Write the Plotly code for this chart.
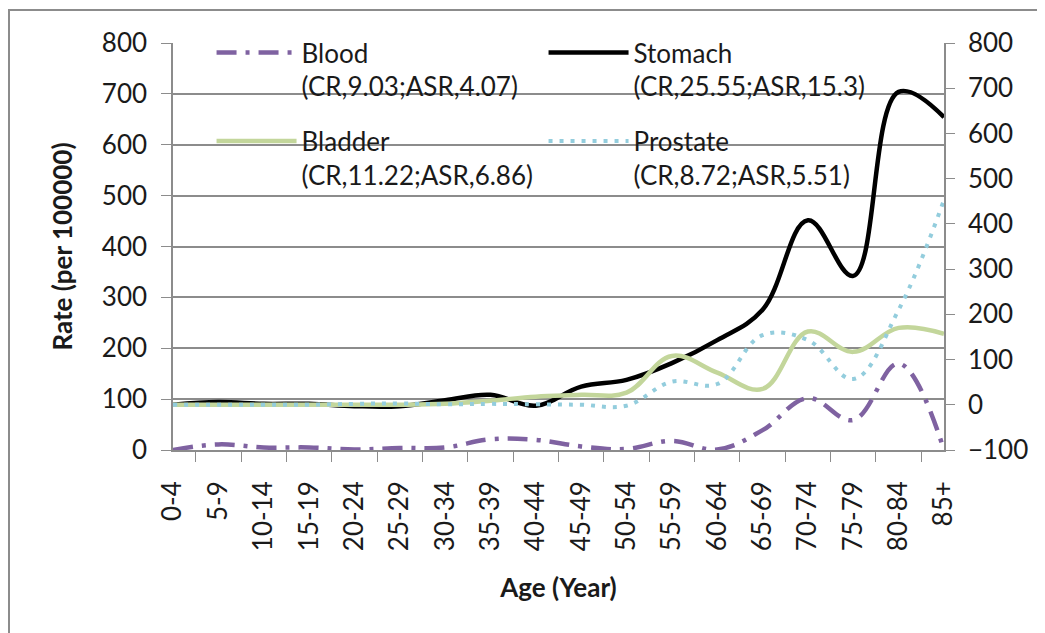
import plotly.graph_objects as go

ages = ['0-4', '5-9', '10-14', '15-19', '20-24', '25-29', '30-34', '35-39', '40-44',
        '45-49', '50-54', '55-59', '60-64', '65-69', '70-74', '75-79', '80-84', '85+']

# left axis
blood = [0, 11, 5, 5, 1, 4, 5, 21, 20, 7, 2, 18, 1, 39, 102, 59, 170, 0]
# right axis
stomach = [0, 6, 2, 2, -3, -3, 10, 22, -2, 40, 55, 92, 143, 210, 408, 285, 692, 636]
bladder = [0, 0, 0, 0, 0, 0, 2, 9, 18, 22, 27, 108, 71, 35, 162, 117, 170, 157]
prostate = [0, 0, 0, 0, 2, 3, 1, 2, 1, 0, -2, 51, 46, 154, 143, 57, 210, 453]

names = {
    'blood': 'Blood<br>(CR,9.03;ASR,4.07)',
    'stomach': 'Stomach<br>(CR,25.55;ASR,15.3)',
    'bladder': 'Bladder<br>(CR,11.22;ASR,6.86)',
    'prostate': 'Prostate<br>(CR,8.72;ASR,5.51)',
}

FONT = 'Lato, Open Sans, sans-serif'
GRID = '#8c8c8c'
FS = 26

fig = go.Figure()
fig.add_scatter(x=ages, y=blood, name=names['blood'], legend='legend', mode='lines',
                line=dict(color='#7f62a1', width=4.5, shape='spline', smoothing=1.1,
                          dash='20px,9px,4px,9px'))
fig.add_scatter(x=ages, y=stomach, name=names['stomach'], legend='legend', mode='lines',
                yaxis='y2',
                line=dict(color='black', width=4.5, shape='spline', smoothing=1.1))
fig.add_scatter(x=ages, y=bladder, name=names['bladder'], legend='legend2', mode='lines',
                yaxis='y2',
                line=dict(color='#c3d69b', width=4.5, shape='spline', smoothing=1.1))
fig.add_scatter(x=ages, y=prostate, name=names['prostate'], legend='legend2', mode='lines',
                yaxis='y2',
                line=dict(color='#93cddd', width=4, shape='spline', smoothing=1.1,
                          dash='4px,7px'))

leg = dict(orientation='h', xanchor='left', yanchor='top', valign='top',
           bgcolor='rgba(0,0,0,0)', borderwidth=0, entrywidth=237, entrywidthmode='pixels',
           itemwidth=80,
           font=dict(family=FONT, size=FS, color='#1a1a1a'), traceorder='normal')

# page body adds an 8px offset, so the figure is 8px smaller than the window
fig.update_layout(
    width=1037, height=625,
    margin=dict(l=165, r=101, t=35, b=183, autoexpand=False),
    paper_bgcolor='white', plot_bgcolor='white',
    font=dict(family=FONT, size=FS, color='#1a1a1a'),
    legend=dict(leg, x=0.05, y=1.034),
    legend2=dict(leg, x=0.05, y=0.817),
    xaxis=dict(
        type='category', showline=True, linecolor=GRID, linewidth=1.5,
        ticks='outside', tickson='boundaries', ticklen=10, tickcolor=GRID,
        tickangle=-90, ticklabelstandoff=19, showgrid=False, automargin=False,
        title=dict(text='<b>Age (Year)</b>', standoff=29, font=dict(size=FS)),
    ),
    yaxis=dict(
        range=[0, 800], dtick=100, showline=True, linecolor=GRID, linewidth=1.5,
        ticks='outside', ticklen=10, tickcolor=GRID, ticklabelstandoff=9,
        showgrid=True, gridcolor=GRID, gridwidth=1.5, zeroline=False, automargin=False,
        title=dict(text='<b>Rate (per 100000)</b>', standoff=22, font=dict(size=FS)),
    ),
    yaxis2=dict(
        range=[-100, 800], dtick=100, overlaying='y', side='right',
        showline=True, linecolor=GRID, linewidth=1.5,
        ticks='outside', ticklen=9, tickcolor=GRID, ticklabelstandoff=8,
        showgrid=False, zeroline=False, automargin=False,
    ),
    shapes=[dict(type='rect', xref='paper', yref='paper',
                 x0=(1 - 165) / 771, x1=1.3, y0=-0.8, y1=1 + (35 - 2) / 407,
                 line=dict(color='#8c8c8c', width=2), layer='below')],
    showlegend=True,
)

fig.write_html('out.html')
